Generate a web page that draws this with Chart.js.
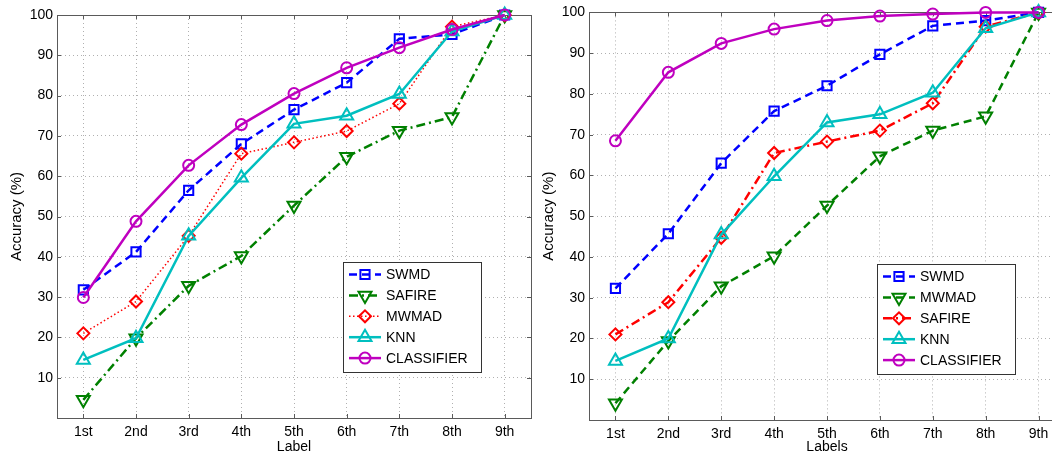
<!DOCTYPE html>
<html>
<head>
<meta charset="utf-8">
<script src="https://cdn.jsdelivr.net/npm/chart.js"></script>
<style>
  html, body { margin: 0; padding: 0; background: #fff; overflow: hidden; width: 1052px; height: 457px; }
  canvas { position: absolute; top: 0; }
  #left { left: 0; }
  #right { left: 532px; }
</style>
</head>
<body>
<canvas id="left" width="543" height="457"></canvas>
<canvas id="right" width="545" height="457"></canvas>
<script>
// data
const labels = ["1st", "2nd", "3rd", "4th", "5th", "6th", "7th", "8th", "9th"];

// left panel
const swmdLeft = [31.8, 41.2, 56.5, 68.0, 76.5, 83.2, 94.1, 95.2, 100];
const safireLeft = [4.5, 19.8, 32.8, 40.2, 52.7, 64.8, 71.3, 74.7, 100];
const mwmadLeft = [21.0, 28.9, 45.2, 65.6, 68.4, 71.2, 78.0, 97.1, 100];
const knnLeft = [14.4, 19.8, 45.2, 59.6, 73.0, 75.0, 80.4, 95.9, 100];
const classifierLeft = [29.9, 48.8, 62.7, 72.8, 80.5, 86.9, 91.9, 96.4, 100];

// right panel
const swmdRight = [32.3, 45.7, 63.0, 75.8, 82.0, 89.7, 96.7, 98.0, 100];
const mwmadRight = [4.1, 19.4, 32.8, 40.2, 52.6, 64.7, 71.0, 74.5, 100];
const safireRight = [21.0, 28.9, 44.7, 65.5, 68.3, 71.0, 77.7, 96.5, 100];
const knnRight = [14.5, 20.0, 45.5, 59.8, 73.0, 75.0, 80.3, 96.1, 100];
const classifierRight = [68.5, 85.3, 92.4, 95.9, 98.0, 99.1, 99.6, 100, 100];

const BLUE = "#0000ff", GREEN = "#008000", RED = "#ff0000", CYAN = "#00bfbf", MAGENTA = "#bf00bf";
const FONT = "'Liberation Sans', Arial, Helvetica, sans-serif";

function serie(label, data, color, dash, width, style, radius, rotation, order) {
    return {
        label: label,
        data: data,
        borderColor: color,
        backgroundColor: "rgba(0,0,0,0)",
        borderWidth: width,
        borderDash: dash,
        pointStyle: style,
        pointRadius: radius,
        pointRotation: rotation,
        pointBorderWidth: 2,
        pointBorderColor: color,
        pointBackgroundColor: "rgba(0,0,0,0)",
        pointHoverRadius: radius,
        tension: 0,
        clip: false,
        order: order
    };
}

// box around plot + inward ticks (matlab style)
const boxPlugin = {
    id: "box",
    beforeDatasetsDraw(chart) {
        const ctx = chart.ctx;
        const a = chart.chartArea;
        const xs = chart.scales.x, ys = chart.scales.y;
        ctx.save();
        ctx.strokeStyle = "#5a5a5a";
        ctx.lineWidth = 1;
        ctx.beginPath();
        for (let i = 0; i < xs.ticks.length; i++) {
            const px = Math.round(xs.getPixelForTick(i)) + 0.5;
            ctx.moveTo(px, a.bottom); ctx.lineTo(px, a.bottom - 4);
            ctx.moveTo(px, a.top); ctx.lineTo(px, a.top + 4);
        }
        for (let i = 0; i < ys.ticks.length; i++) {
            const py = Math.round(ys.getPixelForTick(i)) + 0.5;
            ctx.moveTo(a.left, py); ctx.lineTo(a.left + 4, py);
            ctx.moveTo(a.right, py); ctx.lineTo(a.right - 4, py);
        }
        ctx.stroke();
        ctx.strokeRect(Math.round(a.left) + 0.5, Math.round(a.top) + 0.5,
            Math.round(a.right - a.left), Math.round(a.bottom - a.top));
        ctx.restore();
    }
};

// legend drawn inside the axes, lower right
const legendPlugin = {
    id: "boxLegend",
    afterDatasetsDraw(chart) {
        const ctx = chart.ctx;
        const a = chart.chartArea;
        const w = 138, h = 110;
        const x0 = Math.round(a.right - 50 - w), y0 = Math.round(a.bottom - 46 - h);
        ctx.save();
        ctx.fillStyle = "#fff";
        ctx.fillRect(x0, y0, w, h);
        ctx.strokeStyle = "#333";
        ctx.lineWidth = 1;
        ctx.strokeRect(x0 + 0.5, y0 + 0.5, w, h);
        chart.data.datasets.forEach((ds, i) => {
            const cy = y0 + 12.5 + i * 20.9;
            const lx = x0 + 6, lw = 32;
            ctx.strokeStyle = ds.borderColor;
            ctx.lineWidth = ds.borderWidth;
            ctx.setLineDash(ds.borderDash || []);
            ctx.beginPath();
            ctx.moveTo(lx, cy); ctx.lineTo(lx + lw, cy);
            ctx.stroke();
            ctx.setLineDash([]);
            ctx.fillStyle = "rgba(0,0,0,0)";
            ctx.lineWidth = ds.pointBorderWidth;
            Chart.helpers.drawPoint(ctx, {
                pointStyle: ds.pointStyle, rotation: ds.pointRotation,
                radius: ds.pointRadius, borderWidth: ds.pointBorderWidth
            }, lx + lw / 2, cy);
            ctx.fillStyle = "#000";
            ctx.font = "14px " + FONT;
            ctx.textBaseline = "middle";
            ctx.textAlign = "left";
            ctx.fillText(ds.label, lx + lw + 5, cy + 1);
        });
        ctx.restore();
    }
};

function makeChart(id, datasets, xTitle, padTop, xHeight) {
    return new Chart(document.getElementById(id), {
        type: "line",
        data: { labels: labels, datasets: datasets },
        plugins: [boxPlugin, legendPlugin],
        options: {
            responsive: false,
            animation: false,
            devicePixelRatio: 1,
            layout: { padding: { top: padTop, right: 12, left: 0, bottom: 0 } },
            plugins: { legend: { display: false }, tooltip: { enabled: false } },
            scales: {
                x: {
                    offset: true,
                    grid: { color: "#b0b0b0", offset: false, drawTicks: false },
                    border: { display: false, dash: [1, 3] },
                    ticks: { color: "#000", font: { family: FONT, size: 14 }, padding: 6, maxRotation: 0 },
                    title: { display: true, text: xTitle, color: "#000", font: { family: FONT, size: 14 }, padding: { top: 0, bottom: 1 } },
                    afterFit(scale) { scale.height = xHeight; }
                },
                y: {
                    min: 0,
                    max: 100,
                    grid: { color: "#b0b0b0", drawTicks: false },
                    border: { display: false, dash: [1, 3] },
                    ticks: {
                        stepSize: 10,
                        color: "#000",
                        font: { family: FONT, size: 14 },
                        padding: 4,
                        callback: (v) => (v === 0 ? "" : v)
                    },
                    title: { display: true, text: "Accuracy (%)", color: "#000", font: { family: FONT, size: 15 }, padding: { top: 7.5, bottom: 0 } },
                    afterFit(scale) { scale.width = 57; }
                }
            }
        }
    });
}

makeChart("left", [
    serie("SWMD", swmdLeft, BLUE, [8, 5], 2.5, "rect", 6.5, 0, 5),
    serie("SAFIRE", safireLeft, GREEN, [9, 4, 2, 4], 2.5, "triangle", 7.5, 180, 4),
    serie("MWMAD", mwmadLeft, RED, [1.5, 2.5], 1.5, "rectRot", 6, 0, 3),
    serie("KNN", knnLeft, CYAN, [], 2.5, "triangle", 7.5, 0, 2),
    serie("CLASSIFIER", classifierLeft, MAGENTA, [], 2.5, "circle", 5.5, 0, 1)
], "Label", 15, 39);

makeChart("right", [
    serie("SWMD", swmdRight, BLUE, [8, 5], 2.5, "rect", 6.5, 0, 5),
    serie("MWMAD", mwmadRight, GREEN, [8, 5], 2.5, "triangle", 7.5, 180, 4),
    serie("SAFIRE", safireRight, RED, [9, 4, 2, 4], 2.5, "rectRot", 6, 0, 3),
    serie("KNN", knnRight, CYAN, [], 2.5, "triangle", 7.5, 0, 2),
    serie("CLASSIFIER", classifierRight, MAGENTA, [], 2.5, "circle", 5.5, 0, 1)
], "Labels", 12, 37);
</script>
</body>
</html>
